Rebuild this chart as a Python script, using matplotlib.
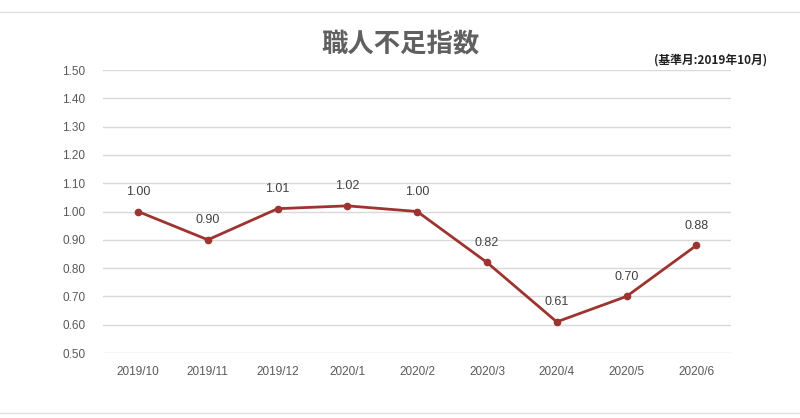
import matplotlib
matplotlib.use("Agg")
import matplotlib.pyplot as plt
from matplotlib.lines import Line2D

plt.rcParams['font.family'] = ['Liberation Sans', 'Noto Sans CJK JP', 'DejaVu Sans']

months = ["2019/10", "2019/11", "2019/12", "2020/1", "2020/2",
          "2020/3", "2020/4", "2020/5", "2020/6"]
index_vals = [1.00, 0.90, 1.01, 1.02, 1.00, 0.82, 0.61, 0.70, 0.88]
yticks = [0.50, 0.60, 0.70, 0.80, 0.90, 1.00, 1.10, 1.20, 1.30, 1.40, 1.50]

fig = plt.figure(figsize=(8, 4.18), dpi=100)
ax = fig.add_axes([0.129, 0.1555, 0.785, 0.677])

x = list(range(len(months)))
ax.plot(x, index_vals, "-o", color="#9e3430", lw=2, ms=4.5, zorder=3)
for xi, v in zip(x, index_vals):
    ax.annotate(f"{v:.2f}", (xi, v), xytext=(0, 10), textcoords="offset points",
                ha="center", va="bottom", fontsize=9, color="#404040")

ax.set_xlim(-0.5, len(months) - 0.5)
ax.set_ylim(0.5, 1.5)
ax.set_yticks(yticks)
ax.set_yticklabels([f"{t:.2f}" for t in yticks])
ax.set_xticks(x)
ax.set_xticklabels(months)
ax.tick_params(length=0, labelsize=8.5, labelcolor="#595959")
ax.tick_params(axis="y", pad=13)
ax.tick_params(axis="x", pad=9)
ax.grid(axis="y", color="#d9d9d9", lw=1)
ax.set_axisbelow(True)
for s in ax.spines.values():
    s.set_visible(False)

fig.text(0.5, 0.895, "職人不足指数", ha="center", va="center", fontsize=19,
         fontweight="bold", color="#606060", family=["Noto Sans CJK JP", "DejaVu Sans"])
fig.text(0.888, 0.857, "(基準月:2019年10月)", ha="center", va="center", fontsize=8.5,
         fontweight="bold", color="#202020", family=["Noto Sans CJK JP", "DejaVu Sans"])

fig.add_artist(Line2D([0, 1], [1 - 12 / 418, 1 - 12 / 418], color="#e0e0e0", lw=1))
fig.add_artist(Line2D([0, 1], [1 - 413 / 418, 1 - 413 / 418], color="#e0e0e0", lw=1))

fig.savefig("out.png", dpi=100)
